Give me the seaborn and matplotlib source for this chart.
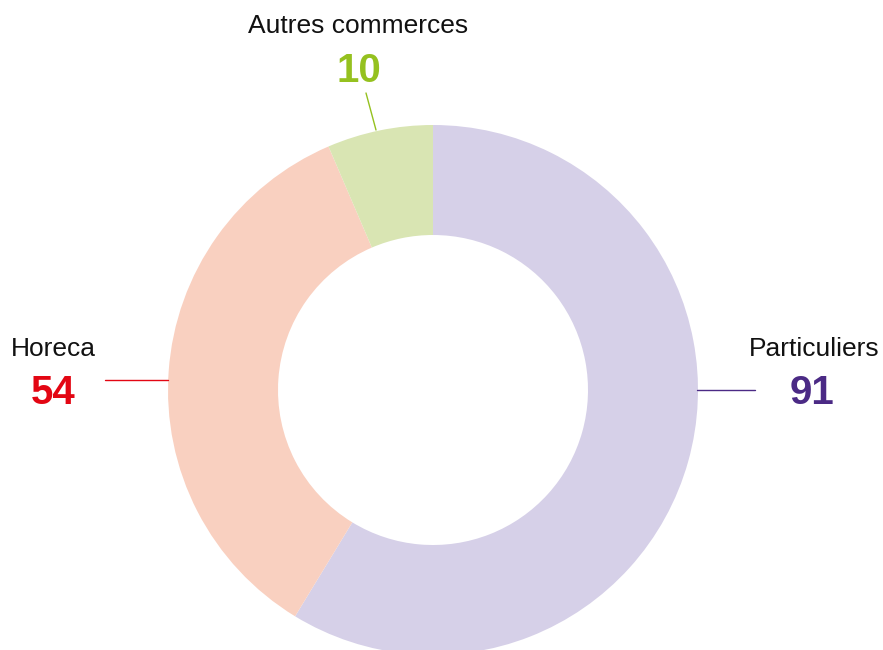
import matplotlib
matplotlib.use("Agg")
import matplotlib.pyplot as plt
import seaborn as sns

# data
categories = ["Particuliers", "Horeca", "Autres commerces"]
values = [91, 54, 10]
slice_colors = ["#d6d0e8", "#f9d0c0", "#d9e5b3"]
text_colors = ["#4b2a85", "#e30613", "#95c11f"]

sns.set_style("white")
plt.rcParams["font.family"] = ["Liberation Sans", "DejaVu Sans"]

W, H = 883, 650
fig = plt.figure(figsize=(W / 100, H / 100), dpi=100)
ax = fig.add_axes([0, 0, 1, 1])

cx, cy = 433, H - 390
r_out, r_in = 265, 155
ax.pie(values, colors=slice_colors, startangle=90, counterclock=False,
       center=(cx, cy), radius=r_out, frame=True,
       wedgeprops=dict(width=r_out - r_in, linewidth=0))
ax.set_xlim(0, W)
ax.set_ylim(0, H)
ax.axis("off")

# label positions (pixel coords from top) and leader lines
label_pos = [(814, 356, 812, 404), (53, 356, 53, 404), (358, 33, 359, 82)]
leaders = [((697, 390), (755, 390)), ((105, 380), (168, 380)), ((366, 93), (376, 130))]

for cat, val, tc, (lx, ly, nx, ny), (p0, p1) in zip(categories, values, text_colors, label_pos, leaders):
    ax.text(lx, H - ly, cat, ha="center", va="baseline", fontsize=19, color="#111111")
    ax.text(nx, H - ny, str(val), ha="center", va="baseline", fontsize=29,
            fontweight="bold", color=tc)
    ax.plot([p0[0], p1[0]], [H - p0[1], H - p1[1]], color=tc, lw=1)

fig.savefig("out.png", dpi=100)
